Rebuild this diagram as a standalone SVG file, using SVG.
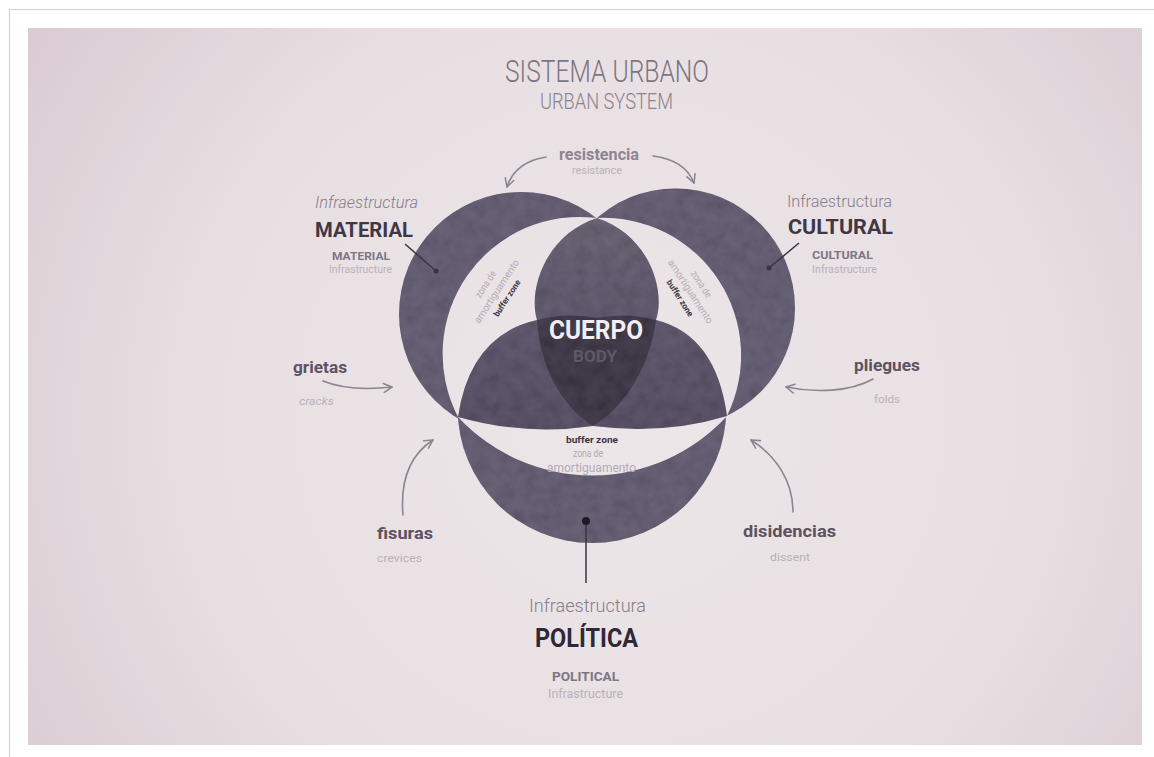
<svg xmlns="http://www.w3.org/2000/svg" width="1154" height="757" viewBox="0 0 1154 757">
  <defs>
    <radialGradient id="wall" gradientUnits="userSpaceOnUse" cx="620" cy="420" r="720">
      <stop offset="0" stop-color="#ede6e8"/>
      <stop offset="0.6" stop-color="#e7dfe2"/>
      <stop offset="1" stop-color="#d9cad1"/>
    </radialGradient>
    <linearGradient id="bodyShade" gradientUnits="userSpaceOnUse" x1="0" y1="218" x2="0" y2="430">
      <stop offset="0" stop-color="#5d5768"/>
      <stop offset="0.45" stop-color="#544c61"/>
      <stop offset="1" stop-color="#4a4257"/>
    </linearGradient>
    <filter id="mottle" x="0" y="0" width="100%" height="100%">
      <feTurbulence type="fractalNoise" baseFrequency="0.08" numOctaves="3" seed="7"/>
      <feColorMatrix type="matrix" values="0.75 0 0 0 0  0.7 0 0 0 0  0.85 0 0 0 0  0 0 0 0 0.14"/>
    </filter>
    <mask id="paint" maskUnits="userSpaceOnUse" x="380" y="190" width="430" height="370">
      <circle cx="521" cy="314" r="122" fill="#fff"/>
      <circle cx="675.5" cy="308" r="119.5" fill="#fff"/>
      <circle cx="592" cy="408.7" r="134.3" fill="#fff"/>
      <path d="M597,218 A137 137 0 0 0 458,417 A183 183 0 0 0 727,416 A137.5 137.5 0 0 0 597,218 Z" fill="#000"/>
      <path d="M458,417 Q470,335 537,320 C528,290 545,235 597,218 C649,235 666,290 656,320 Q716,335 727,416 Q665,435 593,426 Q525,436 458,417 Z" fill="#fff"/>
    </mask>
    <marker id="arrow" viewBox="0 0 10 10" refX="8.5" refY="5" markerUnits="userSpaceOnUse" markerWidth="11" markerHeight="11" orient="auto">
      <path d="M1,1 L8.5,5 L1,9" fill="none" stroke="#8c8490" stroke-width="1.4" stroke-linecap="round" stroke-linejoin="round"/>
    </marker>
    <style>
      text { font-family: Roboto, "DejaVu Sans", sans-serif; }
      .ring { fill: #5a5368; }
      .lobe { fill: url(#bodyShade); }
      .core { fill: #2f2938; }
      .light { fill: url(#wall); }
      .arrow { fill: none; stroke: #8c8490; stroke-width: 1.6; stroke-linecap: round; marker-end: url(#arrow); }
      .pointer { fill: none; stroke: #3a3342; stroke-width: 1.5; }
      .infra { font-weight: 300; fill: #857d8b; }
      .big { font-weight: 700; fill: #3e3746; }
      .sub { font-weight: 700; fill: #7e7684; }
      .en { font-weight: 400; fill: #b9b1b9; }
      .verb { font-weight: 700; fill: #5c5362; }
      .zone { font-weight: 400; fill: #b3abb5; }
      .zonebold { font-weight: 700; fill: #3b3442; }
    </style>
  </defs>

  <!-- page and photo background -->
  <rect x="0" y="0" width="1154" height="757" fill="#ffffff"/>
  <path d="M9.5,757 L9.5,9.5 L1154,9.5" fill="none" stroke="#d2d2d2" stroke-width="1.2"/>
  <rect x="28" y="28" width="1114" height="717" fill="url(#wall)"/>

  <!-- title -->
  <g id="title">
    <text x="505" y="82" font-size="32" font-weight="300" fill="#7c7580" textLength="204" lengthAdjust="spacingAndGlyphs">SISTEMA URBANO</text>
    <text x="540" y="109" font-size="22" font-weight="300" fill="#8a8390" textLength="133" lengthAdjust="spacingAndGlyphs">URBAN SYSTEM</text>
  </g>

  <!-- venn: three infrastructure circles, buffer zones and body -->
  <g id="venn">
    <g id="rings">
      <circle class="ring" cx="521" cy="314" r="122"/>
      <circle class="ring" cx="675.5" cy="308" r="119.5"/>
      <circle class="ring" cx="592" cy="408.7" r="134.3"/>
    </g>
    <path id="buffer" class="light" d="M597,218 A137 137 0 0 0 458,417 A183 183 0 0 0 727,416 A137.5 137.5 0 0 0 597,218 Z"/>
    <path id="body" class="lobe" d="M458,417 Q470,335 537,320 C528,290 545,235 597,218 C649,235 666,290 656,320 Q716,335 727,416 Q665,435 593,426 Q525,436 458,417 Z"/>
    <path id="body-core" class="core" d="M537,320 Q567,312 597,318 Q627,312 656,320 C650,365 627,405 593,426 C560,405 540,365 537,320 Z"/>
    <!-- painted wall grain over the dark areas -->
    <rect x="380" y="190" width="430" height="370" filter="url(#mottle)" mask="url(#paint)"/>
  </g>

  <!-- labels inside the venn -->
  <g id="cuerpo">
    <text x="549" y="339" font-size="25" font-weight="700" fill="#f2eef2" textLength="94" lengthAdjust="spacingAndGlyphs">CUERPO</text>
    <text x="573" y="362" font-size="17" font-weight="700" fill="#5f5867" textLength="44" lengthAdjust="spacingAndGlyphs">BODY</text>
  </g>
  <g id="buffer-bottom">
    <text class="zonebold" x="566" y="443" font-size="9.5" textLength="52" lengthAdjust="spacingAndGlyphs">buffer zone</text>
    <text class="zone" x="573" y="457" font-size="11" textLength="30" lengthAdjust="spacingAndGlyphs">zona de</text>
    <text class="zone" x="547" y="472" font-size="12" textLength="89" lengthAdjust="spacingAndGlyphs">amortiguamento</text>
  </g>
  <g id="buffer-left" transform="translate(496,291) rotate(-57)" text-anchor="middle">
    <text class="zone" x="0" y="-9" font-size="10" textLength="30" lengthAdjust="spacingAndGlyphs">zona de</text>
    <text class="zone" x="0" y="4" font-size="10" textLength="74" lengthAdjust="spacingAndGlyphs">amortiguamento</text>
    <text class="zonebold" x="0" y="16" font-size="8.5" textLength="42" lengthAdjust="spacingAndGlyphs">buffer zone</text>
  </g>
  <g id="buffer-right" transform="translate(691,291) rotate(57)" text-anchor="middle">
    <text class="zone" x="0" y="-9" font-size="10" textLength="30" lengthAdjust="spacingAndGlyphs">zona de</text>
    <text class="zone" x="0" y="4" font-size="10" textLength="74" lengthAdjust="spacingAndGlyphs">amortiguamento</text>
    <text class="zonebold" x="0" y="16" font-size="8.5" textLength="42" lengthAdjust="spacingAndGlyphs">buffer zone</text>
  </g>

  <!-- infrastructure labels -->
  <g id="material">
    <text class="infra" x="315" y="208" font-size="16" font-style="italic" textLength="103" lengthAdjust="spacingAndGlyphs">Infraestructura</text>
    <text class="big" x="315" y="237" font-size="21" textLength="98" lengthAdjust="spacingAndGlyphs">MATERIAL</text>
    <text class="sub" x="332" y="260" font-size="11" textLength="58" lengthAdjust="spacingAndGlyphs">MATERIAL</text>
    <text class="en" x="329" y="273" font-size="10.5" textLength="63" lengthAdjust="spacingAndGlyphs">Infrastructure</text>
  </g>
  <g id="cultural">
    <text class="infra" x="787" y="207" font-size="16" textLength="105" lengthAdjust="spacingAndGlyphs">Infraestructura</text>
    <text class="big" x="788" y="234" font-size="21" textLength="105" lengthAdjust="spacingAndGlyphs">CULTURAL</text>
    <text class="sub" x="812" y="259" font-size="11" textLength="61" lengthAdjust="spacingAndGlyphs">CULTURAL</text>
    <text class="en" x="812" y="273" font-size="10.5" textLength="65" lengthAdjust="spacingAndGlyphs">Infrastructure</text>
  </g>
  <g id="politica">
    <text class="infra" x="529" y="612" font-size="19" textLength="117" lengthAdjust="spacingAndGlyphs">Infraestructura</text>
    <text x="535" y="647" font-size="25" font-weight="700" fill="#2f2836" textLength="103" lengthAdjust="spacingAndGlyphs">POLÍTICA</text>
    <text class="sub" x="552" y="681" font-size="13" textLength="67" lengthAdjust="spacingAndGlyphs">POLITICAL</text>
    <text class="en" x="548" y="698" font-size="12" textLength="75" lengthAdjust="spacingAndGlyphs">Infrastructure</text>
  </g>

  <!-- forces acting on the system -->
  <g id="resistencia">
    <text x="559" y="160" font-size="16" font-weight="700" fill="#8e8494" textLength="80" lengthAdjust="spacingAndGlyphs">resistencia</text>
    <text class="en" x="572" y="174" font-size="10" textLength="50" lengthAdjust="spacingAndGlyphs">resistance</text>
  </g>
  <g id="grietas">
    <text class="verb" x="293" y="373" font-size="17" textLength="54" lengthAdjust="spacingAndGlyphs">grietas</text>
    <text class="en" x="299" y="405" font-size="11" font-style="italic" textLength="35" lengthAdjust="spacingAndGlyphs">cracks</text>
  </g>
  <g id="fisuras">
    <text class="verb" x="377" y="539" font-size="17" textLength="56" lengthAdjust="spacingAndGlyphs">fisuras</text>
    <text class="en" x="377" y="562" font-size="11" textLength="45" lengthAdjust="spacingAndGlyphs">crevices</text>
  </g>
  <g id="pliegues">
    <text class="verb" x="854" y="371" font-size="17" textLength="66" lengthAdjust="spacingAndGlyphs">pliegues</text>
    <text class="en" x="874" y="403" font-size="10" textLength="26" lengthAdjust="spacingAndGlyphs">folds</text>
  </g>
  <g id="disidencias">
    <text class="verb" x="743" y="537" font-size="17" textLength="93" lengthAdjust="spacingAndGlyphs">disidencias</text>
    <text class="en" x="770" y="561" font-size="10" textLength="40" lengthAdjust="spacingAndGlyphs">dissent</text>
  </g>

  <!-- connectors -->
  <g id="connectors">
    <path class="arrow" d="M546,157 Q515,162 507,187"/>
    <path class="arrow" d="M653,156 Q685,160 694,183"/>
    <path class="arrow" d="M323,381 C340,388 365,390 392,387"/>
    <path class="arrow" d="M403,515 C400,480 410,455 433,440"/>
    <path class="arrow" d="M873,379 C850,392 815,393 786,387"/>
    <path class="arrow" d="M793,512 C793,480 775,455 751,440"/>
    <path class="pointer" d="M405,244 L436,271"/>
    <circle cx="436" cy="271" r="2.5" fill="#3a3342"/>
    <path class="pointer" d="M799,243 L769,268"/>
    <circle cx="769" cy="268" r="2.5" fill="#3a3342"/>
    <path class="pointer" d="M586,521 L586,583" stroke-width="1.8"/>
    <circle cx="586" cy="521" r="4" fill="#1e1a22"/>
  </g>
</svg>
